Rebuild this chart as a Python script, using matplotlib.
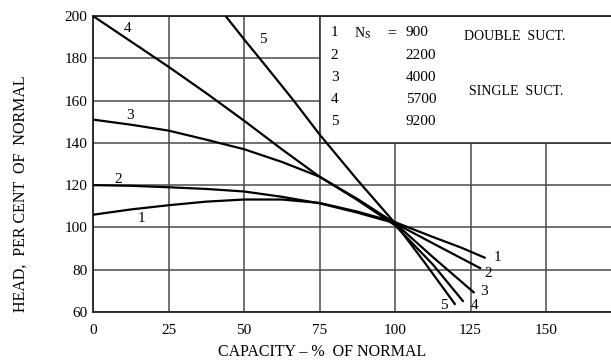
import matplotlib
matplotlib.use("Agg")
import matplotlib.pyplot as plt
from matplotlib.patches import Rectangle

plt.rcParams['font.family'] = ['Liberation Serif', 'DejaVu Serif']
plt.rcParams['mathtext.fontset'] = 'stix'

# ---- data ----
x_ticks = [0, 25, 50, 75, 100, 125, 150]
y_ticks = [60, 80, 100, 120, 140, 160, 180, 200]

curve_ids = ["1", "2", "3", "4", "5"]
ns_values = ["900", "2200", "4000", "5700", "9200"]

cap1 = [0, 12.5, 25, 37.5, 50, 62.5, 75, 87.5, 100, 112.5, 122, 130]
head1 = [106, 108.5, 110.5, 112.2, 113.2, 113.2, 111.6, 107.5, 102.5, 95.5, 90.4, 85.5]

cap2 = [0, 12.5, 25, 37.5, 50, 62.5, 75, 87.5, 100, 112.5, 128.5]
head2 = [120, 119.7, 119, 118.2, 117, 114.5, 111.4, 107, 102, 92.5, 80.5]

cap3 = [0, 12.5, 25, 37.5, 50, 62.5, 75, 87.5, 100, 112.5, 126.3]
head3 = [151, 148.6, 145.8, 141.5, 137, 131, 124, 113.5, 102, 86, 69]

cap4 = [0, 12.5, 25, 37.5, 50, 62.5, 75, 87.5, 100, 112.5, 122.7]
head4 = [200, 188, 176, 163.5, 150.5, 137, 124, 113, 101, 82.5, 64.8]

cap5 = [43.9, 50, 56, 62.5, 66.7, 75, 87.5, 100, 110, 120]
head5 = [200, 189, 178.5, 167, 159.5, 144, 122.5, 102, 83, 63.4]

caps = [cap1, cap2, cap3, cap4, cap5]
heads = [head1, head2, head3, head4, head5]

# ---- layout ----
fig = plt.figure(figsize=(6.11, 3.60), dpi=100)
ax = fig.add_axes([93 / 611, 48 / 360, 1 - 93 / 611, 296 / 360])
XMAX = 171.5
ax.set_xlim(0, XMAX)
ax.set_ylim(60, 200)

ax.set_xticks(x_ticks)
ax.set_yticks(y_ticks)
ax.tick_params(length=0, labelsize=11)
ax.tick_params(axis='x', pad=9)
ax.tick_params(axis='y', pad=4)
ax.grid(True, color='#4a4a4a', lw=1.1)
ax.set_axisbelow(True)

for side in ['left', 'bottom', 'top']:
    ax.spines[side].set_color('#222222')
    ax.spines[side].set_linewidth(1.3)
ax.spines['right'].set_visible(False)

# legend box (white panel hiding the grid)
ax.add_patch(Rectangle((75, 140), XMAX - 75 + 1, 60, facecolor='white',
                       edgecolor='#333333', lw=1.2, zorder=1, clip_on=True))

for c, h in zip(caps, heads):
    ax.plot(c, h, color='black', lw=1.6, zorder=3, solid_capstyle='butt')

# curve labels
lbl_kw = dict(fontsize=11, ha='center', va='center', zorder=4)
left_pos = [(16.2, 104.4), (8.5, 122.7), (12.3, 153), (11.3, 194), (56.3, 188.8)]
right_pos = [(133.9, 86), (131, 78.2), (129.4, 69.5), (126.4, 63.3), (116.2, 63.3)]
for cid, (lx, ly), (rx, ry) in zip(curve_ids, left_pos, right_pos):
    ax.text(lx, ly, cid, **lbl_kw)
    ax.text(rx, ry, cid, **lbl_kw)

# legend content
row_y = [192, 181.5, 170.7, 160.6, 149.9]
for cid, ns, yy in zip(curve_ids, ns_values, row_y):
    ax.text(80, yy, cid, fontsize=11, ha='center', va='center', zorder=4)
    ax.text(103.5, yy, ns, fontsize=11, ha='left', va='center', zorder=4)
ax.text(86.3, row_y[0], r"N$_{\rm S}$", fontsize=10, ha='left', va='center', zorder=4)
ax.text(98.8, row_y[0], "=", fontsize=11, ha='center', va='center', zorder=4)
ax.text(122.9, 190.5, "DOUBLE  SUCT.", fontsize=10, ha='left', va='center', zorder=4)
ax.text(124.5, 164.3, "SINGLE  SUCT.", fontsize=10, ha='left', va='center', zorder=4)

ax.set_xlabel("CAPACITY \u2013 %  OF NORMAL", fontsize=11.5)
ax.xaxis.set_label_coords(0.442, -0.108)
ax.set_ylabel("HEAD,  PER CENT  OF  NORMAL", fontsize=11.5)
ax.yaxis.set_label_coords(-0.125, 0.40)

fig.savefig("out.png", dpi=100)
